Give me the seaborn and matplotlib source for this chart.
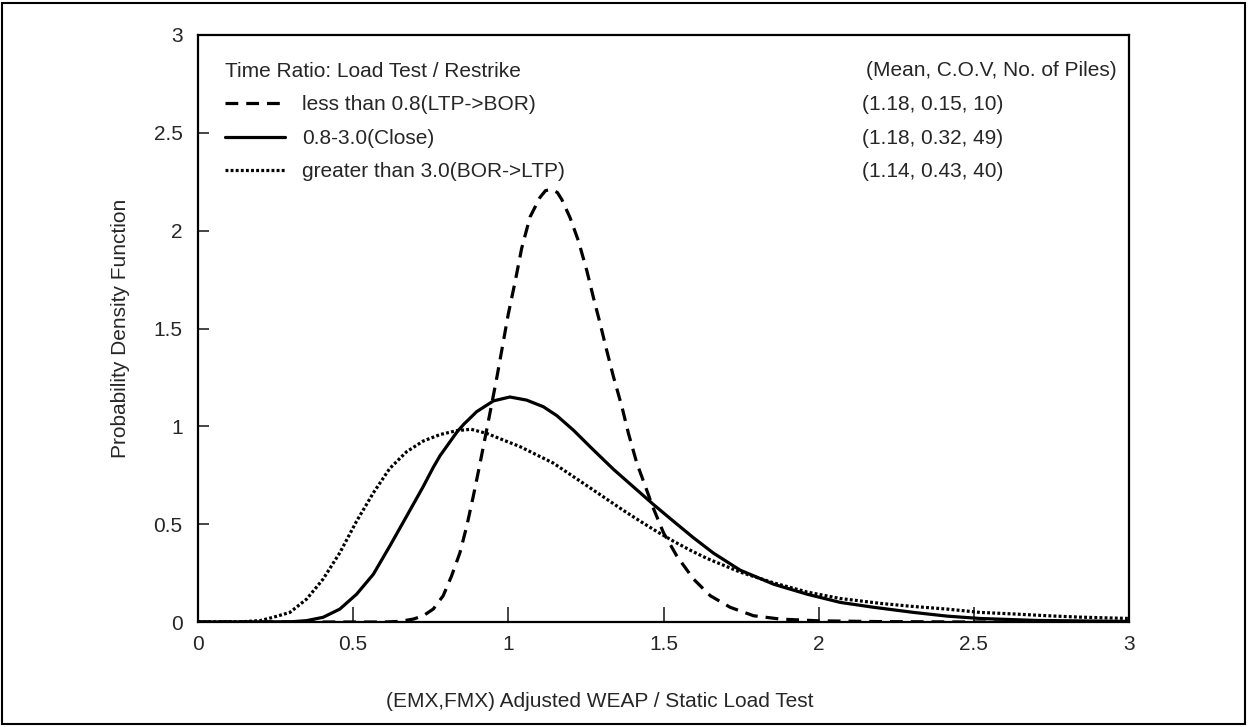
import matplotlib
matplotlib.use("Agg")
import matplotlib.pyplot as plt
from matplotlib.ticker import MultipleLocator, FormatStrFormatter
from matplotlib.patches import Rectangle
import seaborn as sns
import pandas as pd

# ---- data ----
dash_x = [0.0, 0.60, 0.65, 0.694, 0.726, 0.758, 0.79, 0.817, 0.844, 0.866, 0.887, 0.909, 0.93, 0.946,
          0.963, 0.979, 1.0, 1.022, 1.043, 1.07, 1.102, 1.12, 1.14, 1.158, 1.172, 1.199, 1.226, 1.253,
          1.274, 1.296, 1.317, 1.339, 1.366, 1.387, 1.414, 1.44, 1.465, 1.5, 1.543, 1.597, 1.651,
          1.715, 1.79, 1.876, 2.0, 2.2, 2.5, 3.0]
dash_y = [0.0, 0.0, 0.003, 0.015, 0.032, 0.066, 0.134, 0.235, 0.354, 0.49, 0.642, 0.812, 0.981, 1.11,
          1.25, 1.39, 1.575, 1.74, 1.91, 2.07, 2.17, 2.205, 2.21, 2.195, 2.16, 2.066, 1.947, 1.795,
          1.659, 1.524, 1.388, 1.252, 1.10, 0.964, 0.812, 0.70, 0.59, 0.456, 0.337, 0.219, 0.134,
          0.075, 0.032, 0.015, 0.006, 0.002, 0.0, 0.0]

solid_x = [0.0, 0.30, 0.35, 0.403, 0.457, 0.511, 0.565, 0.618, 0.672, 0.726, 0.758, 0.78, 0.834, 0.856,
           0.898, 0.952, 1.005, 1.059, 1.113, 1.156, 1.21, 1.264, 1.339, 1.425, 1.468, 1.532, 1.597,
           1.661, 1.747, 1.855, 1.963, 2.07, 2.178, 2.306, 2.414, 2.52, 2.7, 3.0]
solid_y = [0.0, 0.001, 0.007, 0.024, 0.066, 0.142, 0.244, 0.388, 0.54, 0.693, 0.79, 0.85, 0.97, 1.01,
           1.075, 1.13, 1.15, 1.134, 1.10, 1.055, 0.98, 0.895, 0.78, 0.66, 0.60, 0.515, 0.43,
           0.352, 0.265, 0.193, 0.142, 0.10, 0.075, 0.049, 0.03, 0.018, 0.008, 0.003]

dot_x = [0.0, 0.15, 0.2, 0.242, 0.296, 0.35, 0.403, 0.457, 0.511, 0.565, 0.618, 0.672, 0.726, 0.78,
         0.834, 0.88, 0.93, 1.038, 1.145, 1.264, 1.371, 1.425, 1.479, 1.532, 1.586, 1.64, 1.747,
         1.855, 1.963, 2.07, 2.2, 2.3, 2.414, 2.52, 2.63, 2.737, 2.84, 3.0]
dot_y = [0.0, 0.002, 0.007, 0.024, 0.049, 0.117, 0.219, 0.354, 0.515, 0.66, 0.785, 0.87, 0.925, 0.958,
         0.978, 0.985, 0.964, 0.896, 0.812, 0.685, 0.57, 0.515, 0.462, 0.413, 0.367, 0.325, 0.255,
         0.2, 0.153, 0.12, 0.095, 0.08, 0.066, 0.049, 0.041, 0.032, 0.025, 0.018]

series_labels = ["less than 0.8(LTP->BOR)", "0.8-3.0(Close)", "greater than 3.0(BOR->LTP)"]
stats_header = "(Mean, C.O.V, No. of Piles)"
stats_rows = ["(1.18, 0.15, 10)", "(1.18, 0.32, 49)", "(1.14, 0.43, 40)"]
legend_title = "Time Ratio: Load Test / Restrike"
x_label = "(EMX,FMX) Adjusted WEAP / Static Load Test"
y_label = "Probability Density Function"

# ---- style ----
sns.set_style("white")
plt.rcParams["font.family"] = ["Liberation Sans", "DejaVu Sans"]
FS = 15

fig = plt.figure(figsize=(12.49, 7.27), dpi=100)
ax = fig.add_axes([198 / 1249, 1 - 622 / 727, 931 / 1249, 587 / 727])

styles = [(0, (4, 2.5)), "-", (0, (0.9, 0.7))]
data = [(dash_x, dash_y), (solid_x, solid_y), (dot_x, dot_y)]
handles = []
for (xs, ys), ls, lab in zip(data, styles, series_labels):
    df = pd.DataFrame({"x": xs, "y": ys})
    sns.lineplot(data=df, x="x", y="y", ax=ax, sort=False, estimator=None,
                 color="black", linewidth=2.3, linestyle=ls)
    ln = ax.lines[-1]
    ln.set_label(lab)
    handles.append(ln)

ax.set_xlim(0, 3)
ax.set_ylim(0, 3)
ax.xaxis.set_major_locator(MultipleLocator(0.5))
ax.xaxis.set_minor_locator(MultipleLocator(0.1))
ax.yaxis.set_major_locator(MultipleLocator(0.5))
ax.yaxis.set_minor_locator(MultipleLocator(0.1))
ax.xaxis.set_major_formatter(FormatStrFormatter("%g"))
ax.yaxis.set_major_formatter(FormatStrFormatter("%g"))
ax.tick_params(axis="x", which="major", direction="in", length=11, width=1.2,
               labelsize=FS, pad=9, top=False, bottom=True)
ax.tick_params(axis="x", which="minor", direction="in", length=6, width=1.2, top=False)
ax.tick_params(axis="y", which="major", direction="in", length=8, width=1.2,
               labelsize=FS, pad=11, right=False, left=True)
ax.tick_params(axis="y", which="minor", direction="in", length=5, width=1.2, right=False)
for sp in ax.spines.values():
    sp.set_visible(True)
    sp.set_color("black")
    sp.set_linewidth(1.6)

ax.set_xlabel(x_label, fontsize=FS)
ax.set_ylabel(y_label, fontsize=FS)
ax.xaxis.set_label_coords(0.432, -0.119)
ax.yaxis.set_label_coords(-0.073, 0.5)

leg = ax.legend(handles=handles, labels=series_labels, title=legend_title,
                loc="upper left", bbox_to_anchor=(0.02, 0.968), frameon=False,
                fontsize=FS, title_fontsize=FS, handlelength=2.9, handletextpad=0.8,
                labelspacing=0.69, borderaxespad=0.0, alignment="left")

ax.text(0.987, 0.940, stats_header, transform=ax.transAxes, ha="right", va="center", fontsize=FS)
for i, row in enumerate(stats_rows):
    ax.text((862 - 198) / 931, 0.881 - i * 0.0565, row, transform=ax.transAxes,
            ha="left", va="center", fontsize=FS)

fig.patches.append(Rectangle((0.002, 0.004), 0.995, 0.992, transform=fig.transFigure,
                             fill=False, edgecolor="black", linewidth=1.5))

fig.savefig("out.png", dpi=100)
